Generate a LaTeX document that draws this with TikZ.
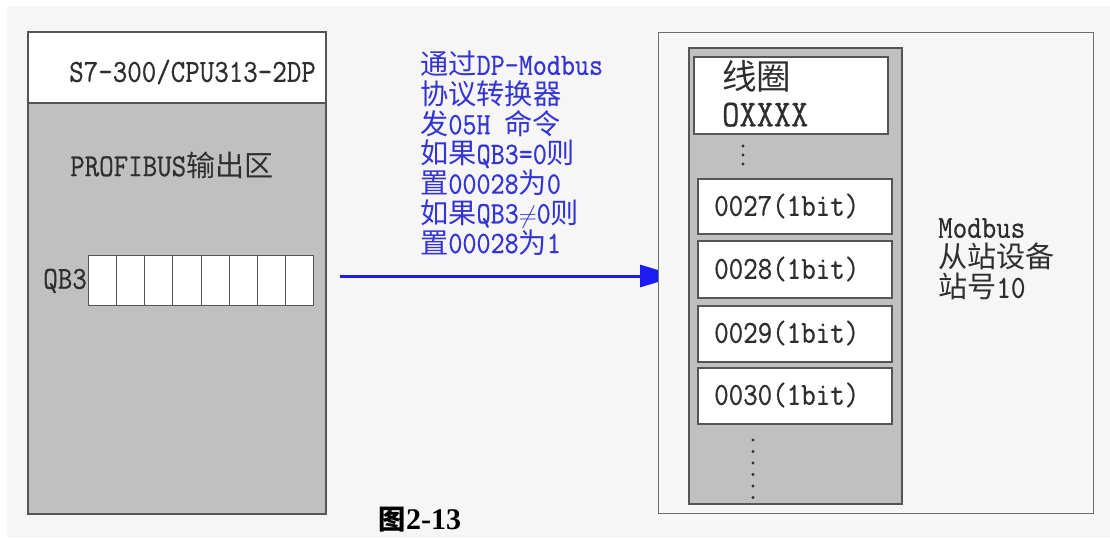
\documentclass[tikz,border=0pt]{standalone}
\usepackage{fontspec}
\setmonofont{Latin Modern Mono}[FakeStretch=0.88, FakeBold=0.6]
\newfontfamily\cjk[Scale=0.91]{Noto Sans CJK SC}
\newfontfamily\capfont{Liberation Serif}
\usetikzlibrary{arrows.meta}
\definecolor{bg}{HTML}{F6F6F6}
\definecolor{panel}{HTML}{C0C0C0}
\definecolor{edge}{HTML}{555555}
\definecolor{txt}{HTML}{2E2E2E}
\definecolor{bluet}{HTML}{3434D6}
\definecolor{bluea}{HTML}{1C1CF2}
\newcommand{\zh}[1]{{\cjk #1}}
\tikzset{
  box/.style={draw=edge, line width=1.6pt, rectangle, inner sep=0pt, anchor=north west},
  cell/.style={draw=edge, line width=1pt, rectangle, inner sep=0pt, anchor=north west, fill=white, minimum width=28.125, minimum height=50},
  slot/.style={box, fill=white, minimum width=194, line width=1.8pt},
  lbl/.style={inner sep=0pt, text=txt, font=\ttfamily\fontsize{32}{30}\selectfont},
  bluelbl/.style={inner sep=0pt, text=bluet, align=left, font=\ttfamily\fontsize{31}{29.7}\selectfont},
  flow/.style={draw=bluea, line width=3pt, -{Triangle[length=38pt,width=22pt]}},
  dot/.style={fill=txt}
}
\begin{document}
\begin{tikzpicture}[x=1pt,y=-1pt]
\useasboundingbox (0,0) rectangle (1110,538);
\fill[white] (0,0) rectangle (1110,538);
\fill[bg] (7,6) rectangle (1110,538);
% left device
\node[box, fill=panel, minimum width=298, minimum height=411] (cpu) at (27,102) {};
\node[box, fill=white, minimum width=298, minimum height=71] (hdr) at (27,31) {};
\node[lbl, anchor=east] (cpuname) at (316,72) {S7-300/CPU313-2DP};
\node[lbl, anchor=west] (area) at (70,165) {PROFIBUS\zh{输出区}};
\foreach \i in {1,...,8}{
  \node[cell] (c\i) at ({88+(\i-1)*28.125},255) {};
}
\node[lbl, anchor=east] (qb3) at (87,281) {QB3};
% arrow + text
\coordinate (src) at (340,276);
\coordinate (dst) at (678,276);
\draw[flow] (src) -- (dst);
\node[bluelbl, anchor=north west] (cmd) at (420,51) {\zh{通过}DP-Modbus\\\zh{协议转换器}\\\zh{发}05H \zh{命令}\\\zh{如果}QB3=0\zh{则}\\\zh{置}00028\zh{为}0\\\zh{如果}QB3$\neq$0\zh{则}\\\zh{置}00028\zh{为}1};
% right device
\node[box, fill=bg, minimum width=435, minimum height=481, line width=1.4pt, draw=edge!85] (slave) at (658,32) {};
\node[box, fill=panel, minimum width=213, minimum height=456, line width=2pt] (mem) at (688,47) {};
\node[slot, minimum height=77] (coil) at (693,56) {};
\node[lbl, anchor=north west, align=left, font=\ttfamily\fontsize{38}{37}\selectfont] (coiltxt) at (722,60) {\zh{线圈}\\OXXXX};
\node[slot, minimum height=55] (r27) at (697,178) {};
\node[slot, minimum height=57] (r28) at (697,240) {};
\node[slot, minimum height=56] (r29) at (697,305) {};
\node[slot, minimum height=56] (r30) at (697,367) {};
\node[lbl, anchor=west] (t27) at (714,206) {0027(1bit)};
\node[lbl, anchor=west] (t28) at (714,269) {0028(1bit)};
\node[lbl, anchor=west] (t29) at (714,333) {0029(1bit)};
\node[lbl, anchor=west] (t30) at (714,395) {0030(1bit)};
\foreach \y in {146,155,164}{ \fill[dot] (743,\y) circle (1.7); }
\foreach \y in {440,451.5,463,474.5,486,497.5}{ \fill[dot] (753,\y) circle (1.7); }
\node[lbl, anchor=north west, align=left, font=\ttfamily\fontsize{32}{30}\selectfont] (slavetxt) at (938,218) {Modbus\\\zh{从站设备}\\\zh{站号}10};
% caption
\node[inner sep=0pt, text=black, font=\capfont\bfseries\fontsize{30}{30}\selectfont] (cap) at (420,520) {{\cjk\bfseries 图}2-13};
\end{tikzpicture}
\end{document}
